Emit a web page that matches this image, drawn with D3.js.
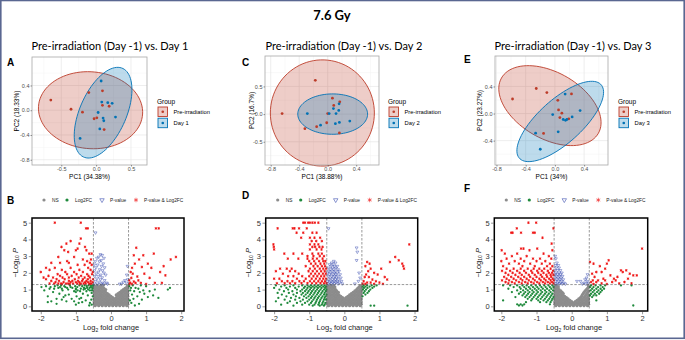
<!DOCTYPE html>
<html>
<head>
<meta charset="utf-8">
<script src="https://cdn.jsdelivr.net/npm/d3@7"></script>
<style>
  body { margin: 0; background: #fff; }
  svg { display: block; }
</style>
</head>
<body>
<div id="chart"></div>
<script>
// ---------- data ----------
var mainTitle = "7.6 Gy"
var pcaTitles = ["Pre-irradiation (Day -1) vs. Day 1", "Pre-irradiation (Day -1) vs. Day 2", "Pre-irradiation (Day -1) vs. Day 3"]
var pcaLetters = ["A", "C", "E"]
var volcLetters = ["B", "D", "F"]
var pc1Labels = ["PC1 (34.38%)", "PC1 (38.88%)", "PC1 (34%)"]
var pc2Labels = ["PC2 (18.33%)", "PC2 (16.7%)", "PC2 (23.27%)"]
var groupNames = [["Pre-irradiation", "Day 1"], ["Pre-irradiation", "Day 2"], ["Pre-irradiation", "Day 3"]]

var pcaPreA = [[-0.65,0.164],[-0.36,0.016],[-0.196,-0.032],[-0.105,0.286],[0.091,0.313],[0.091,0.079],[0.187,0.064],[-0.029,-0.138],[0.01,-0.122],[0.115,-0.313]]
var pcaDayA = [[0.072,0.472],[0.081,0.132],[0.167,0.122],[0.23,0.111],[0.029,-0.037],[0.1,-0.127],[0.11,-0.17],[0.278,-0.111],[0.053,-0.302],[-0.23,-0.456]]
var pcaPreC = [[-0.174,0.61],[-0.64,0.01],[0.066,0.287],[0.085,0.156],[0.169,0.222],[0,0.01],[-0.014,-0.156],[-0.155,-0.228],[-0.32,-0.263],[0.164,-0.341]]
var pcaDayC = [[-0.286,0.01],[0.08,0.1],[0.16,0.186],[0.155,0.066],[0.117,0.01],[0.02,0.01],[0.164,-0.15],[0.31,-0.126],[0.108,-0.174],[-0.1,-0.2]]
var pcaPreE = [[-0.58,0.215],[-0.255,0.37],[-0.11,0.31],[0.04,0.195],[0.227,0.29],[0.05,0.054],[0.095,0.005],[0.068,-0.059],[0.19,-0.078],[-0.155,-0.293]]
var pcaDayE = [[0.14,0.288],[-0.03,-0.015],[0.114,-0.088],[0.145,-0.1],[0.164,-0.088],[0.236,-0.05],[0.345,0.044],[0.045,-0.27],[-0.264,-0.29],[-0.2,-0.527]]

// ellipses: [centre x, centre y, semi-axis a, semi-axis b, angle (deg)]
var ellipsesA = [[-0.08,0,0.75,0.62,-8], [0.10,-0.04,0.77,0.34,70]]
var ellipsesC = [[-0.075,0.02,0.73,0.96,0], [0.07,0,0.49,0.365,0]]
var ellipsesE = [[-0.068,0.117,0.78,0.48,-34], [0.073,-0.117,0.78,0.31,45]]

var pcaXTicks = [[-0.5,0,0.5], [-0.8,-0.4,0,0.4], [-0.8,-0.4,0,0.4]]
var pcaYTicks = [[-0.8,-0.4,0,0.4], [-0.5,0,0.5], [-0.4,0,0.4]]

var volcKeys = ["NS", "Log2FC", "P-value", "P-value & Log2FC"]
var volcXTicks = [-2, -1, 0, 1, 2]
var volcYTicks = [0, 1, 2, 3, 4, 5]
var fcCutoff = 0.5
var pCutoff = 1.3

// volcano points, rows of [ -log10 P, [log2 fold changes] ]
var redB = [[5.0,[-1.60,-0.86]],[4.66,[-0.71,-0.66,1.28,1.36]],[4.05,[-0.86]],[3.9,[-1.15]],[3.75,[-1.27,-0.90]],[3.55,[-1.41,-0.74]],[3.5,[0.72]],[3.45,[-0.95]],[3.35,[-1.33,-1.00,-0.70]],[3.25,[-1.22]],[3.15,[-0.62,-0.55,1.22]],[3.05,[0.65,0.92]],[2.95,[-1.50,-1.05,1.85]],[2.8,[-0.80,-0.57,0.80,1.70]],[2.7,[-1.25,-0.68]],[2.6,[-1.70,-1.45,-1.20,-0.60]],[2.55,[0.68,1.05]],[2.48,[-0.95,-0.75,-0.55]],[2.4,[1.50]],[2.35,[0.88]],[2.3,[-1.85,-1.60,-1.15,-0.65,0.60,1.15]],[2.18,[-1.75,-1.40,-0.90,-0.58]],[2.05,[-2.00,-1.30,-1.05,-0.80,-0.52,0.56,1.40]],[1.95,[0.62,0.95]],[1.92,[-1.52,-1.25,-0.98,-0.68,-0.54]],[1.85,[1.55]],[1.82,[-1.78,-1.45,-1.12,-0.85,-0.64]],[1.78,[0.75]],[1.72,[-1.92,-1.65,-1.38,-1.20,-0.92,-0.75,-0.60]],[1.7,[0.58,1.10]],[1.62,[-1.85,-1.55,-1.32,-1.03,-0.80,-0.66,-0.51]],[1.55,[0.52,0.78]],[1.52,[-1.70,-1.48,-1.20,-1.10,-0.94,-0.82,-0.70,-0.58]],[1.48,[0.65]],[1.44,[-1.58,-1.35,-1.15,-1.00,-0.90,-0.74,-0.65,-0.52]],[1.4,[0.55,0.70,0.85,1.25,1.45]],[1.36,[-1.75,-1.62,-1.50,-1.42,-1.28,-1.22,-1.08,-0.96,-0.86,-0.78,-0.72,-0.60,-0.56]],[1.33,[-1.40,-1.18,-0.88,-0.62,0.52,0.60,1.00]]]
var blueB = [[4.4,[-0.44]],[3.1,[-0.30]],[3.05,[-0.25]],[2.95,[-0.35]],[2.88,[-0.20,-0.40]],[2.75,[-0.28]],[2.68,[-0.45,-0.33]],[2.55,[-0.22]],[2.48,[-0.48,-0.38]],[2.4,[-0.27,0.47]],[2.32,[-0.18,-0.43]],[2.2,[-0.32]],[2.14,[-0.24,-0.47]],[2.05,[-0.36]],[2.0,[-0.20]],[1.95,[-0.42]],[1.88,[-0.29,-0.15,0.45]],[1.8,[-0.46,-0.35]],[1.72,[-0.25]],[1.65,[-0.40]],[1.6,[-0.30,0.48]],[1.55,[-0.18,0.40]],[1.5,[-0.44]],[1.45,[-0.34,0.35]],[1.4,[-0.24,-0.12,0.44]],[1.34,[-0.48,-0.38,-0.28,-0.20,-0.10,0.25,0.30]]]
var greenB = [[1.25,[-1.52,-1.42,-1.17,-0.90,-0.75,-0.64,-0.57,-0.51,0.62,0.85]],[1.2,[-1.85,-1.60,-1.33,-1.02,-0.82,-0.69,0.52,1.00]],[1.15,[-1.98,-1.72,-1.45,-1.30,-1.15,-0.96,-0.58,-0.54]],[1.1,[-1.50,-1.25,-1.10,-0.77,-0.68,-0.61,0.57,0.70,1.68]],[1.05,[-1.75,-1.62,-1.40,-1.00,-0.86,-0.74,-0.53,0.78]],[1.0,[-1.22,-1.00,-0.78,-0.65,1.25,1.62]],[0.95,[-1.90,-1.38,-0.95,-0.60,-0.54,0.55,0.92]],[0.9,[-1.05,-0.88,-0.70,0.66,1.10]],[0.85,[-1.65,-1.00,0.82]],[0.8,[-0.55]],[0.75,[-1.47,-0.80,0.95]],[0.7,[-1.20,0.60]],[0.65,[-1.30,-0.66,1.20]],[0.6,[-1.80,-0.98,-0.52,0.75]],[0.55,[-1.35,1.05]],[0.5,[-0.85,1.35]],[0.45,[-1.55,-1.12,-0.90,0.64]],[0.4,[-1.40,-0.56,0.88]],[0.35,[-0.72,0.54]],[0.3,[-1.70,-1.27,-1.05]],[0.25,[-1.80,-0.82]],[0.2,[-0.92,-0.60,0.58]],[0.15,[-1.55,0.80]],[0.1,[-1.00,-0.55]],[0.05,[-0.62,0.68]]]
var greyB = [[0.04,[-0.45,-0.35,-0.25,-0.15,-0.05,0.05,0.15,0.25,0.35,0.45]],[0.12,[-0.48,-0.40,-0.30,-0.20,-0.10,0.00,0.10,0.20,0.30,0.40,0.48]],[0.20,[-0.45,-0.35,-0.25,-0.15,-0.05,0.05,0.15,0.25,0.35,0.45]],[0.28,[-0.48,-0.40,-0.30,-0.20,-0.10,0.00,0.10,0.20,0.30,0.40,0.48]],[0.36,[-0.45,-0.35,-0.25,-0.15,-0.05,0.05,0.15,0.25,0.35,0.45]],[0.44,[-0.48,-0.40,-0.30,-0.20,-0.10,0.00,0.10,0.20,0.30,0.40,0.48]],[0.52,[-0.45,-0.35,-0.25,-0.15,-0.05,0.05,0.15,0.25,0.35,0.45]],[0.60,[-0.48,-0.40,-0.30,-0.20,-0.10,0.00,0.20,0.30,0.40,0.48]],[0.68,[-0.45,-0.35,-0.25,-0.15,-0.05,0.15,0.25,0.35,0.45]],[0.76,[-0.48,-0.40,-0.30,-0.20,-0.10,0.20,0.30,0.40,0.48]],[0.84,[-0.45,-0.35,-0.25,-0.15,0.25,0.35,0.45]],[0.92,[-0.48,-0.40,-0.30,-0.20,0.30,0.40,0.48]],[1.00,[-0.45,-0.35,-0.25,-0.15,0.35,0.45]],[1.08,[-0.48,-0.40,-0.30,-0.20,0.40,0.48]],[1.16,[-0.45,-0.35,-0.25,0.45]],[1.24,[-0.48,-0.40,-0.30,-0.22,0.48]]]

var redD = [[5.0,[-1.17,-1.12,-1.03,-0.98,-0.91,-0.84,-0.74]],[4.66,[-1.90,-1.47,-1.42,-1.29,-1.07]],[4.4,[-1.36,-1.17,-0.91,-0.79]],[4.1,[-1.23,-0.98,-0.85,-0.69]],[3.9,[-0.93,-0.80,-0.64]],[3.7,[-2.02,-0.98,-0.85,-0.74,1.85]],[3.55,[-2.01,-0.91,-0.83,-0.71,-0.62]],[3.4,[-2.00,-0.98,-0.79,-0.65]],[3.15,[-1.71,-1.45,-1.20,-0.91,-0.74,-0.64]],[3.0,[-1.05,-0.88,-0.70,-0.58]],[2.95,[1.45]],[2.85,[-1.61,-1.31,-1.05,-0.90,-0.78,-0.62]],[2.75,[1.55]],[2.7,[-1.00,-0.86,-0.72,-0.60,-0.54]],[2.65,[0.65,1.30]],[2.55,[-0.95,-0.82,-0.68,-0.57,0.72,1.65]],[2.4,[-1.10,-0.88,-0.76,-0.64,-0.55,0.60,1.68]],[2.25,[-1.83,-1.64,-1.50,-0.98,-0.84,-0.70,-0.60,-0.52,0.75,1.05,1.70]],[2.1,[-1.95,-1.55,-1.40,-1.02,-0.90,-0.78,-0.66,-0.56,0.68]],[2.0,[0.85]],[1.95,[-1.75,-1.30,-0.95,-0.83,-0.72,-0.61,-0.53]],[1.9,[0.62,0.95]],[1.8,[-1.60,-1.45,-1.20,-1.00,-0.88,-0.77,-0.66,-0.57]],[1.75,[0.58,0.70,1.15]],[1.65,[-2.00,-1.85,-1.35,-1.10,-0.93,-0.81,-0.70,-0.60,-0.52]],[1.6,[0.80,1.22]],[1.5,[-1.78,-1.62,-1.48,-1.28,-1.15,-0.98,-0.86,-0.74,-0.64,-0.55,0.55,0.90]],[1.42,[0.65,0.75,1.00]],[1.38,[-1.92,-1.70,-1.55,-1.40,-1.22,-1.05,-0.92,-0.80,-0.68,-0.58,-0.51]],[1.34,[0.52,0.60,0.85,1.10]]]
var blueD = [[4.65,[-0.45]],[3.5,[0.35]],[3.25,[0.37]],[2.75,[0.35]],[2.7,[-0.30]],[2.6,[-0.36,-0.25]],[2.5,[-0.42,-0.32]],[2.4,[-0.38,-0.28,-0.20]],[2.3,[-0.46,-0.34,-0.24]],[2.2,[-0.40,-0.30,-0.18]],[2.1,[-0.44,-0.35,-0.26,-0.15]],[2.0,[-0.48,-0.38,-0.28,-0.20,0.42]],[1.9,[-0.42,-0.32,-0.24,-0.12]],[1.8,[-0.46,-0.36,-0.27,-0.18]],[1.7,[-0.40,-0.30,-0.22,-0.10,0.45]],[1.6,[-0.44,-0.34,-0.25,-0.16]],[1.5,[-0.48,-0.38,-0.29,-0.20,-0.08,0.40]],[1.42,[-0.42,-0.33,-0.24,-0.14]],[1.35,[-0.46,-0.37,-0.28,-0.18,-0.06,0.30]]]
var greenD = [[1.25,[-1.95,-1.70,-1.45,-1.20,-1.05,-0.95,-0.85,-0.75,-0.65,-0.56,0.55,0.65,0.78,0.92]],[1.18,[-1.80,-1.55,-1.30,-1.12,-1.00,-0.90,-0.80,-0.70,-0.60,-0.52,0.52,0.60,0.72,0.85]],[1.1,[-2.00,-1.65,-1.40,-1.15,-1.05,-0.95,-0.85,-0.75,-0.65,-0.55,0.56,0.66,0.80]],[1.0,[-1.85,-1.60,-1.35,-1.20,-1.08,-0.98,-0.88,-0.78,-0.68,-0.58,-0.51,0.53,0.62,0.74]],[0.9,[-1.72,-1.48,-1.25,-1.12,-1.02,-0.92,-0.82,-0.72,-0.62,-0.53,0.58,0.70]],[0.8,[-1.90,-1.58,-1.35,-1.18,-1.05,-0.95,-0.85,-0.75,-0.65,-0.56,0.55,0.66]],[0.7,[-1.78,-1.45,-1.22,-1.10,-0.98,-0.88,-0.78,-0.68,-0.58,-0.51,0.60]],[0.6,[-1.65,-1.38,-1.15,-1.02,-0.92,-0.82,-0.72,-0.62,-0.54,0.52]],[0.5,[-1.88,-1.52,-1.28,-1.08,-0.95,-0.85,-0.75,-0.65,-0.56]],[0.4,[-1.70,-1.40,-1.18,-1.00,-0.88,-0.78,-0.68,-0.58,-0.52]],[0.3,[-1.95,-1.55,-1.25,-1.05,-0.92,-0.80,-0.70,-0.60]],[0.2,[-1.62,-1.35,-1.12,-0.95,-0.82,-0.72,-0.62,-0.54]],[0.1,[-1.80,-1.20,-1.00,-0.85,-0.74,-0.64,-0.56]],[0.04,[-1.45,-0.90,-0.70,-0.58,0.75,0.85,1.80]]]
var greyD = [[0.04,[-0.45,-0.35,-0.25,-0.15,-0.05,0.05,0.15,0.25,0.35,0.45]],[0.12,[-0.48,-0.40,-0.30,-0.20,-0.10,0.00,0.10,0.20,0.30,0.40,0.48]],[0.20,[-0.45,-0.35,-0.25,-0.15,-0.05,0.05,0.15,0.25,0.35,0.45]],[0.28,[-0.48,-0.40,-0.30,-0.20,-0.10,0.00,0.10,0.20,0.30,0.40,0.48]],[0.36,[-0.45,-0.35,-0.25,-0.15,-0.05,0.05,0.15,0.25,0.35,0.45]],[0.44,[-0.48,-0.40,-0.30,-0.20,-0.10,0.00,0.10,0.20,0.30,0.40,0.48]],[0.52,[-0.45,-0.35,-0.25,-0.15,-0.05,0.05,0.15,0.25,0.35,0.45]],[0.60,[-0.48,-0.40,-0.30,-0.20,-0.10,0.10,0.20,0.30,0.40,0.48]],[0.68,[-0.45,-0.35,-0.25,-0.15,0.15,0.25,0.35,0.45]],[0.76,[-0.48,-0.40,-0.30,-0.20,0.20,0.30,0.40,0.48]],[0.84,[-0.45,-0.35,-0.25,-0.17,0.25,0.35,0.45]],[0.92,[-0.48,-0.40,-0.30,-0.22,0.30,0.40,0.48]],[1.00,[-0.45,-0.35,-0.25,0.35,0.45]],[1.08,[-0.48,-0.40,-0.30,0.38,0.48]],[1.16,[-0.45,-0.35,-0.27,0.42]],[1.24,[-0.48,-0.40,-0.32,0.46]]]

var redF = [[5.0,[-1.23,-1.01]],[4.66,[-1.56,-0.52]],[4.4,[-1.72,-1.68,-1.44,-1.10,-1.05]],[4.1,[-0.83]],[3.75,[-0.57]],[3.45,[-1.44,-1.37,-0.98,2.00]],[3.35,[-1.99,-1.20,-0.55]],[3.15,[-1.90,-1.55,-0.80]],[3.0,[-1.70,-1.28,-0.65]],[2.85,[-1.85,-1.45,-1.10,-0.90,-0.58]],[2.75,[1.05]],[2.7,[-2.00,-1.62,-1.35,-1.00,-0.75]],[2.65,[0.52]],[2.55,[-1.78,-1.50,-1.18,-0.85,-0.62,0.62,1.00]],[2.4,[-1.95,-1.40,-1.05,-0.70,-0.55,0.80]],[2.25,[-1.85,-1.65,-1.45,-1.25,-1.08,-0.92,-0.78,-0.60,0.95]],[2.15,[1.40,1.55]],[2.12,[-1.98,-1.75,-1.55,-1.35,-1.15,-0.98,-0.85,-0.68,-0.53]],[2.05,[0.70,0.85,1.45]],[2.0,[-1.88,-1.68,-1.48,-1.30,-1.12,-0.95,-0.80,-0.65,-0.56]],[1.95,[0.58,1.65]],[1.88,[-1.80,-1.60,-1.42,-1.22,-1.05,-0.88,-0.72,-0.60,-0.52]],[1.85,[1.10,1.75,1.85]],[1.76,[-1.92,-1.72,-1.52,-1.35,-1.18,-1.00,-0.84,-0.70,-0.58,0.65,1.30]],[1.65,[-1.85,-1.65,-1.45,-1.28,-1.10,-0.92,-0.78,-0.64,-0.54,0.90,1.20,1.60]],[1.55,[-1.98,-1.78,-1.58,-1.40,-1.22,-1.05,-0.88,-0.74,-0.60,-0.51,0.60,0.75,0.95,1.25]],[1.45,[-1.88,-1.70,-1.50,-1.32,-1.15,-0.98,-0.82,-0.68,-0.56,0.55,0.70,1.15,1.50]],[1.37,[-1.80,-1.62,-1.42,-1.25,-1.08,-0.92,-0.76,-0.62,-0.52,0.85,1.35,1.70]],[1.33,[0.62,1.00]]]
var blueF = [[3.0,[-0.47]],[2.85,[-0.45]],[2.6,[-0.42]],[2.45,[-0.46,-0.38]],[2.3,[-0.44,-0.36]],[2.15,[-0.48,-0.40,-0.32]],[2.0,[-0.45,-0.36,-0.28]],[1.9,[-0.48,-0.40,-0.32,0.45]],[1.8,[-0.44,-0.35,-0.26]],[1.7,[-0.47,-0.38,-0.30,0.42]],[1.6,[-0.42,-0.33,-0.24,0.38]],[1.5,[-0.46,-0.37,-0.28,0.15,0.25,0.44]],[1.4,[-0.40,-0.31,-0.22,0.35,0.47]],[1.34,[-0.45,-0.35,-0.27,-0.18,0.30,0.40]]]
var greenF = [[1.25,[-1.95,-1.75,-1.55,-1.40,-1.28,-1.15,-1.02,-0.90,-0.78,-0.66,-0.55,0.55,0.68,0.82,0.95,1.40,1.70]],[1.15,[-1.65,-1.48,-1.35,-1.22,-1.10,-0.98,-0.86,-0.74,-0.62,-0.52,0.52,0.62,0.75,0.88]],[1.05,[-1.80,-1.45,-1.30,-1.18,-1.05,-0.94,-0.82,-0.70,-0.58,0.58,0.70,0.82,0.92]],[0.95,[-1.55,-1.38,-1.25,-1.12,-1.00,-0.88,-0.76,-0.64,-0.53,0.54,0.64,0.76,0.86]],[0.85,[-1.70,-1.45,-1.32,-1.20,-1.08,-0.96,-0.84,-0.72,-0.60,0.60,0.72,0.82]],[0.75,[-1.50,-1.36,-1.24,-1.12,-1.00,-0.88,-0.76,-0.65,-0.55,0.55,0.66,0.78]],[0.65,[-1.40,-1.28,-1.16,-1.04,-0.92,-0.80,-0.69,-0.58,0.52,0.62,0.70]],[0.55,[-1.60,-1.32,-1.20,-1.08,-0.96,-0.84,-0.72,-0.61,-0.52,0.58]],[0.45,[-1.25,-1.12,-1.00,-0.88,-0.76,-0.64,-0.55]],[0.35,[-1.95,-1.15,-0.95,-0.80,-0.68,-0.57,0.70]],[0.25,[-1.30,-0.90,-0.72,-0.60]],[0.12,[-1.55,-1.45,-1.35,-0.62]],[0.05,[-1.50,-1.40,1.75]]]
var greyF = [[0.04,[-0.45,-0.35,-0.25,-0.15,-0.05,0.05,0.15,0.25,0.35,0.45]],[0.12,[-0.48,-0.40,-0.30,-0.20,-0.10,0.00,0.10,0.20,0.30,0.40,0.48]],[0.20,[-0.45,-0.35,-0.25,-0.15,-0.05,0.05,0.15,0.25,0.35,0.45]],[0.28,[-0.48,-0.40,-0.30,-0.20,-0.10,0.00,0.10,0.20,0.30,0.40,0.48]],[0.36,[-0.45,-0.35,-0.25,-0.15,-0.05,0.15,0.25,0.35,0.45]],[0.44,[-0.48,-0.40,-0.30,-0.20,-0.10,0.20,0.30,0.40,0.48]],[0.52,[-0.45,-0.35,-0.25,-0.15,0.25,0.35,0.45]],[0.60,[-0.48,-0.40,-0.30,-0.20,0.28,0.38,0.48]],[0.68,[-0.45,-0.35,-0.25,0.30,0.40,0.48]],[0.76,[-0.48,-0.40,-0.30,-0.24,0.33,0.43]],[0.84,[-0.45,-0.35,-0.27,0.35,0.45]],[0.92,[-0.48,-0.40,-0.31,0.38,0.48]],[1.00,[-0.45,-0.36,0.42]],[1.08,[-0.48,-0.40,0.45]],[1.16,[-0.46,-0.38,0.48]],[1.24,[-0.48,-0.42,0.47]]]

// ---------- layout ----------
var W = 685, H = 340
var preColor = "#BC3C29", dayColor = "#0072B5"
var cNS = "#8c8c8c", cFC = "#1f8a3c", cP = "#3e50b0", cBoth = "#ee1111"
var plotFont = "'Liberation Sans', Arial, sans-serif"
var titleFont = "Lato, 'Open Sans', sans-serif"

var pcaPanels = [
  { box: [32, 57, 147, 165], xd: [-0.92, 0.73], yd: [-0.885, 0.86], pre: pcaPreA, day: pcaDayA, ell: ellipsesA, tx: 110, lx: 7, ly: 66, yTitleX: 16.5, legX: 157 },
  { box: [265, 56, 379, 165], xd: [-0.88, 0.72], yd: [-0.92, 1.05], pre: pcaPreC, day: pcaDayC, ell: ellipsesC, tx: 344, lx: 242, ly: 66, yTitleX: 251.5, legX: 388 },
  { box: [495, 56, 608, 165], xd: [-0.82, 0.727], yd: [-0.76, 0.85], pre: pcaPreE, day: pcaDayE, ell: ellipsesE, tx: 573, lx: 464, ly: 63, yTitleX: 480, legX: 618 }
]

var volcPanels = [
  { box: [32, 218, 184, 311], xd: [-2.25, 2.08], red: redB, blue: blueB, green: greenB, grey: greyB, lx: 7, ly: 204, yTitleX: 15 },
  { box: [265.7, 218, 417.7, 311], xd: [-2.24, 2.09], red: redD, blue: blueD, green: greenD, grey: greyD, lx: 242, ly: 199, yTitleX: 248.5 },
  { box: [494.3, 218, 647.7, 311], xd: [-2.2, 2.16], red: redF, blue: blueF, green: greenF, grey: greyF, lx: 464, ly: 192, yTitleX: 478 }
]

var svg = d3.select("#chart").append("svg")
    .attr("width", W)
    .attr("height", H)

svg.append("rect")
    .attr("width", W).attr("height", H)
    .attr("fill", "#fff")

svg.append("text")
    .attr("x", 332).attr("y", 19.5)
    .attr("text-anchor", "middle")
    .attr("font-family", titleFont)
    .attr("font-weight", "bold")
    .attr("font-size", 13)
    .text(mainTitle)

function flatRows(rows) {
  var out = []
  rows.forEach(function(r) { r[1].forEach(function(x) { out.push([x, r[0]]) }) })
  return out
}

function ellipsePath(e, x, y) {
  var th = e[4] * Math.PI / 180
  var pts = d3.range(0, 361, 4).map(function(t) {
    var a = t * Math.PI / 180
    var ex = e[0] + e[2] * Math.cos(a) * Math.cos(th) - e[3] * Math.sin(a) * Math.sin(th)
    var ey = e[1] + e[2] * Math.cos(a) * Math.sin(th) + e[3] * Math.sin(a) * Math.cos(th)
    return [x(ex), y(ey)]
  })
  return d3.line().curve(d3.curveLinearClosed)(pts)
}

function minorTicks(ticks, domain) {
  var step = ticks[1] - ticks[0]
  var out = []
  for (var v = ticks[0] - step / 2; v <= domain[1]; v += step) {
    if (v >= domain[0]) out.push(v)
  }
  return out
}

function styleAxis(g, size, color) {
  g.select(".domain").remove()
  g.selectAll(".tick line").attr("stroke", "#333").attr("stroke-width", 0.5)
  g.selectAll(".tick text").attr("font-family", plotFont).attr("font-size", size).attr("fill", color)
}

pcaPanels.forEach(function(p, i) {

  var x = d3.scaleLinear().domain(p.xd).range([p.box[0], p.box[2]])
  var y = d3.scaleLinear().domain(p.yd).range([p.box[3], p.box[1]])
  var g = svg.append("g")

  svg.append("text")
      .attr("x", p.tx).attr("y", 50)
      .attr("text-anchor", "middle")
      .attr("font-family", titleFont)
      .attr("font-size", 11)
      .text(pcaTitles[i])

  svg.append("text")
      .attr("x", p.lx).attr("y", p.ly)
      .attr("font-family", plotFont)
      .attr("font-weight", "bold")
      .attr("font-size", 10)
      .text(pcaLetters[i])

  // grid
  g.selectAll(".vminor").data(minorTicks(pcaXTicks[i], p.xd)).join("line")
      .attr("x1", d => x(d)).attr("x2", d => x(d))
      .attr("y1", p.box[1]).attr("y2", p.box[3])
      .attr("stroke", "#f3f3f3").attr("stroke-width", 0.5)
  g.selectAll(".hminor").data(minorTicks(pcaYTicks[i], p.yd)).join("line")
      .attr("y1", d => y(d)).attr("y2", d => y(d))
      .attr("x1", p.box[0]).attr("x2", p.box[2])
      .attr("stroke", "#f3f3f3").attr("stroke-width", 0.5)
  g.selectAll(".vmajor").data(pcaXTicks[i]).join("line")
      .attr("x1", d => x(d)).attr("x2", d => x(d))
      .attr("y1", p.box[1]).attr("y2", p.box[3])
      .attr("stroke", "#e6e6e6").attr("stroke-width", 0.7)
  g.selectAll(".hmajor").data(pcaYTicks[i]).join("line")
      .attr("y1", d => y(d)).attr("y2", d => y(d))
      .attr("x1", p.box[0]).attr("x2", p.box[2])
      .attr("stroke", "#e6e6e6").attr("stroke-width", 0.7)

  // ellipses
  var cols = [preColor, dayColor]
  p.ell.forEach(function(e, k) {
    g.append("path")
        .attr("d", ellipsePath(e, x, y))
        .attr("fill", cols[k]).attr("fill-opacity", 0.26)
        .attr("stroke", cols[k]).attr("stroke-width", 0.9)
  })

  g.selectAll(".pre").data(p.pre).join("circle")
      .attr("cx", d => x(d[0])).attr("cy", d => y(d[1])).attr("r", 1.4)
      .attr("fill", preColor)
  g.selectAll(".day").data(p.day).join("circle")
      .attr("cx", d => x(d[0])).attr("cy", d => y(d[1])).attr("r", 1.4)
      .attr("fill", dayColor)

  g.append("rect")
      .attr("x", p.box[0]).attr("y", p.box[1])
      .attr("width", p.box[2] - p.box[0]).attr("height", p.box[3] - p.box[1])
      .attr("fill", "none").attr("stroke", "#a8a8a8").attr("stroke-width", 0.8)

  var fmt = d => d.toFixed(1)
  g.append("g").attr("transform", "translate(0," + p.box[3] + ")")
      .call(d3.axisBottom(x).tickValues(pcaXTicks[i]).tickFormat(fmt).tickSize(1.5).tickPadding(1))
      .call(styleAxis, 5.5, "#4d4d4d")
  g.append("g").attr("transform", "translate(" + p.box[0] + ",0)")
      .call(d3.axisLeft(y).tickValues(pcaYTicks[i]).tickFormat(fmt).tickSize(1.5).tickPadding(1))
      .call(styleAxis, 5.5, "#4d4d4d")

  g.append("text")
      .attr("x", (p.box[0] + p.box[2]) / 2).attr("y", 179)
      .attr("text-anchor", "middle")
      .attr("font-family", plotFont).attr("font-size", 6.5)
      .text(pc1Labels[i])
  g.append("text")
      .attr("transform", "translate(" + p.yTitleX + "," + ((p.box[1] + p.box[3]) / 2) + ") rotate(-90)")
      .attr("dy", "0.35em")
      .attr("text-anchor", "middle")
      .attr("font-family", plotFont).attr("font-size", 6.5)
      .text(pc2Labels[i])

  // legend
  var leg = g.append("g").attr("transform", "translate(" + p.legX + ",0)")
  leg.append("text")
      .attr("x", 0).attr("y", 104)
      .attr("font-family", plotFont).attr("font-size", 6.5)
      .text("Group")
  groupNames[i].forEach(function(name, k) {
    var ky = 107 + k * 11.2
    leg.append("rect")
        .attr("x", 1).attr("y", ky).attr("width", 9.5).attr("height", 9.5)
        .attr("fill", cols[k]).attr("fill-opacity", 0.26)
        .attr("stroke", cols[k]).attr("stroke-width", 0.9)
    leg.append("circle")
        .attr("cx", 5.75).attr("cy", ky + 4.75).attr("r", 1.3)
        .attr("fill", cols[k])
    leg.append("text")
        .attr("x", 16.5).attr("y", ky + 4.75).attr("dy", "0.35em")
        .attr("font-family", plotFont).attr("font-size", 5.8)
        .text(name)
  })
})

var triDown = d3.symbol().type(d3.symbolTriangle2).size(6)()
var asterisk = d3.symbol().type(d3.symbolAsterisk).size(5)()

volcPanels.forEach(function(p, i) {

  var x = d3.scaleLinear().domain(p.xd).range([p.box[0], p.box[2]])
  var y = d3.scaleLinear().domain([-0.28, 5.28]).range([p.box[3], p.box[1]])
  var g = svg.append("g")

  svg.append("text")
      .attr("x", p.lx).attr("y", p.ly)
      .attr("font-family", plotFont)
      .attr("font-weight", "bold")
      .attr("font-size", 10)
      .text(volcLetters[i])

  g.selectAll(".ns").data(flatRows(p.grey)).join("circle")
      .attr("cx", d => x(d[0])).attr("cy", d => y(d[1])).attr("r", 1.6)
      .attr("fill", cNS)
  g.selectAll(".fc").data(flatRows(p.green)).join("circle")
      .attr("cx", d => x(d[0])).attr("cy", d => y(d[1])).attr("r", 1.15)
      .attr("fill", cFC)
  g.selectAll(".pv").data(flatRows(p.blue)).join("path")
      .attr("d", triDown)
      .attr("transform", d => "translate(" + x(d[0]) + "," + y(d[1]) + ") rotate(180)")
      .attr("fill", "none").attr("stroke", cP).attr("stroke-width", 0.6).attr("stroke-opacity", 0.8)
  g.selectAll(".both").data(flatRows(p.red)).join("path")
      .attr("d", asterisk)
      .attr("transform", d => "translate(" + x(d[0]) + "," + y(d[1]) + ")")
      .attr("fill", "none").attr("stroke", cBoth).attr("stroke-width", 0.85)

  // cut-off lines
  g.selectAll(".vcut").data([-fcCutoff, fcCutoff]).join("line")
      .attr("x1", d => x(d)).attr("x2", d => x(d))
      .attr("y1", p.box[1]).attr("y2", p.box[3])
      .attr("stroke", "#555").attr("stroke-width", 0.6).attr("stroke-dasharray", "2.5,1.5")
  g.append("line")
      .attr("x1", p.box[0]).attr("x2", p.box[2])
      .attr("y1", y(pCutoff)).attr("y2", y(pCutoff))
      .attr("stroke", "#555").attr("stroke-width", 0.6).attr("stroke-dasharray", "2.5,1.5")

  g.append("rect")
      .attr("x", p.box[0]).attr("y", p.box[1])
      .attr("width", p.box[2] - p.box[0]).attr("height", p.box[3] - p.box[1])
      .attr("fill", "none").attr("stroke", "#000").attr("stroke-width", 1.5)

  g.append("g").attr("transform", "translate(0," + (p.box[3] + 0.75) + ")")
      .call(d3.axisBottom(x).tickValues(volcXTicks).tickFormat(d => String(d)).tickSize(2.5).tickPadding(1.2))
      .call(styleAxis, 7.5, "#333")
  g.append("g").attr("transform", "translate(" + (p.box[0] - 0.75) + ",0)")
      .call(d3.axisLeft(y).tickValues(volcYTicks).tickFormat(d => String(d)).tickSize(2.5).tickPadding(1.5))
      .call(styleAxis, 7.5, "#333")

  var xt = g.append("text")
      .attr("x", (p.box[0] + p.box[2]) / 2 + 3).attr("y", 330)
      .attr("text-anchor", "middle")
      .attr("font-family", plotFont).attr("font-size", 7.5).attr("fill", "#222")
  xt.append("tspan").text("Log")
  xt.append("tspan").attr("font-size", 5).attr("dy", 1.6).text("2")
  xt.append("tspan").attr("dy", -1.6).text(" fold change")

  var yt = g.append("text")
      .attr("transform", "translate(" + p.yTitleX + "," + (y(2.6)) + ") rotate(-90)")
      .attr("text-anchor", "middle")
      .attr("dy", "0.35em")
      .attr("font-family", plotFont).attr("font-size", 7.5).attr("fill", "#222")
  yt.append("tspan").text("\u2212Log")
  yt.append("tspan").attr("font-size", 5).attr("dy", 1.6).text("10")
  yt.append("tspan").attr("dy", -1.6).attr("font-style", "italic").text(" P")

  // legend
  var lg = g.append("g").attr("transform", "translate(" + p.box[0] + ",200)")
  var offs = [12, 35, 70, 104]
  offs.forEach(function(o, k) {
    if (k === 0) lg.append("circle").attr("cx", o).attr("cy", 0).attr("r", 1.6).attr("fill", cNS)
    if (k === 1) lg.append("circle").attr("cx", o).attr("cy", 0).attr("r", 1.6).attr("fill", cFC)
    if (k === 2) lg.append("path").attr("d", d3.symbol().type(d3.symbolTriangle2).size(14)())
        .attr("transform", "translate(" + o + ",0) rotate(180)")
        .attr("fill", "none").attr("stroke", cP).attr("stroke-width", 0.6)
    if (k === 3) lg.append("path").attr("d", d3.symbol().type(d3.symbolAsterisk).size(14)())
        .attr("transform", "translate(" + o + ",0)")
        .attr("fill", "none").attr("stroke", cBoth).attr("stroke-width", 0.6)
    lg.append("text")
        .attr("x", o + 8).attr("y", 0).attr("dy", "0.35em")
        .attr("font-family", plotFont).attr("font-size", 4.8).attr("fill", "#222")
        .text(volcKeys[k])
  })
})

// outer frame
svg.append("rect")
    .attr("x", 0.8).attr("y", 0.5)
    .attr("width", W - 1.6).attr("height", 337.8)
    .attr("fill", "none")
    .attr("stroke", "#5a6791")
    .attr("stroke-width", 1.6)
</script>
</body>
</html>
